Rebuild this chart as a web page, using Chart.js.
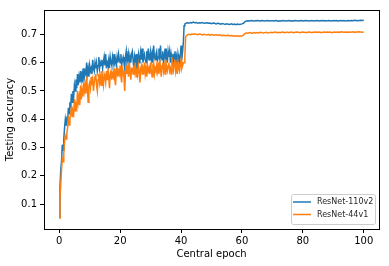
<!DOCTYPE html>
<html>
<head>
<meta charset="utf-8">
<script src="https://cdn.jsdelivr.net/npm/chart.js@4"></script>
<style>
  html, body { margin: 0; padding: 0; background: #fff; }
  #wrap { width: 389px; height: 266px; }
</style>
</head>
<body>
<div id="wrap"><canvas id="chart" width="389" height="266"></canvas></div>
<script>
// Testing accuracy per central epoch.
// Noisy phase (epoch 0 .. 42) sampled every quarter epoch,
// plateau phase (epoch 42.5 .. 100) sampled every half epoch.
const EARLY_START = 0, EARLY_STEP = 0.25;
const LATE_START = 42.5, LATE_STEP = 0.5;
const seriesLabels = ['ResNet-110v2', 'ResNet-44v1'];
const seriesColors = ['#1f77b4', '#ff7f0e'];
const xTicks = [0, 20, 40, 60, 80, 100];
const yTicks = [0.1, 0.2, 0.3, 0.4, 0.5, 0.6, 0.7];

const resnet110Early = [
    0.055,0.16,0.22,0.25,0.31,0.29,0.33,0.37,
    0.40,0.38,0.41,0.39,0.44,0.42,0.46,0.44,
    0.49,0.46,0.50,0.48,0.52,0.50,0.54,0.51,
    0.56,0.52,0.55,0.53,0.57,0.54,0.56,0.53,
    0.58,0.55,0.57,0.56,0.60,0.56,0.58,0.55,
    0.59,0.57,0.58,0.56,0.61,0.58,0.57,0.60,
    0.58,0.60,0.57,0.59,0.62,0.58,0.60,0.59,
    0.61,0.58,0.60,0.62,0.59,0.63,0.58,0.60,
    0.59,0.61,0.58,0.62,0.60,0.59,0.62,0.60,
    0.63,0.60,0.61,0.59,0.62,0.60,0.63,0.61,
    0.60,0.63,0.59,0.61,0.62,0.60,0.58,0.62,
    0.64,0.60,0.61,0.63,0.59,0.62,0.60,0.63,
    0.64,0.61,0.58,0.62,0.60,0.63,0.55,0.61,
    0.63,0.60,0.62,0.64,0.61,0.65,0.60,0.62,
    0.63,0.61,0.60,0.64,0.62,0.65,0.61,0.62,
    0.64,0.61,0.63,0.60,0.66,0.62,0.61,0.63,
    0.64,0.61,0.62,0.65,0.60,0.66,0.62,0.61,
    0.64,0.60,0.62,0.65,0.61,0.63,0.60,0.64,
    0.62,0.64,0.60,0.63,0.61,0.62,0.59,0.63,
    0.64,0.60,0.62,0.59,0.63,0.61,0.60,0.62,
    0.66,0.61,0.64,0.67,0.73,0.737,0.738,0.740,
    0.741
];

const resnet110Late = [
    0.739,0.742,0.740,0.743,0.741,
    0.742,0.739,0.741,0.740,0.742,0.739,0.740,0.741,0.739,0.740,
    0.738,0.740,0.739,0.737,0.739,0.738,0.736,0.738,0.737,0.735,
    0.737,0.736,0.735,0.737,0.735,0.736,0.734,0.736,0.735,0.736,
    0.737,0.739,0.745,0.747,0.748,0.747,0.749,0.748,0.747,0.748,
    0.749,0.748,0.747,0.749,0.748,0.747,0.748,0.749,0.747,0.748,
    0.748,0.747,0.749,0.748,0.746,0.748,0.747,0.749,0.748,0.747,
    0.748,0.749,0.747,0.748,0.747,0.749,0.748,0.747,0.748,0.749,
    0.747,0.748,0.749,0.748,0.747,0.748,0.749,0.747,0.748,0.749,
    0.748,0.747,0.749,0.748,0.749,0.747,0.748,0.749,0.748,0.747,
    0.749,0.748,0.749,0.747,0.748,0.749,0.748,0.749,0.747,0.748,
    0.749,0.748,0.749,0.748,0.750,0.749,0.748,0.749,0.750,0.749,
    0.750
];

const resnet44Early = [
    0.05,0.12,0.17,0.22,0.26,0.25,0.28,0.32,
    0.34,0.33,0.35,0.37,0.41,0.38,0.40,0.42,
    0.44,0.41,0.43,0.42,0.47,0.43,0.45,0.44,
    0.50,0.46,0.48,0.45,0.52,0.47,0.50,0.48,
    0.53,0.50,0.52,0.49,0.55,0.51,0.46,0.52,
    0.53,0.51,0.55,0.52,0.54,0.50,0.53,0.55,
    0.56,0.52,0.50,0.54,0.56,0.53,0.55,0.52,
    0.57,0.54,0.52,0.56,0.55,0.53,0.57,0.54,
    0.58,0.55,0.51,0.56,0.57,0.54,0.56,0.55,
    0.58,0.54,0.52,0.57,0.58,0.55,0.57,0.56,
    0.59,0.55,0.53,0.58,0.57,0.55,0.50,0.56,
    0.59,0.56,0.58,0.55,0.60,0.57,0.54,0.58,
    0.58,0.56,0.59,0.57,0.60,0.55,0.58,0.56,
    0.59,0.57,0.53,0.58,0.59,0.56,0.58,0.57,
    0.60,0.56,0.58,0.55,0.59,0.57,0.58,0.56,
    0.60,0.57,0.55,0.59,0.60,0.56,0.58,0.57,
    0.59,0.57,0.60,0.56,0.61,0.58,0.55,0.59,
    0.60,0.57,0.59,0.56,0.61,0.58,0.57,0.59,
    0.60,0.57,0.58,0.56,0.62,0.58,0.57,0.60,
    0.61,0.57,0.59,0.56,0.60,0.58,0.57,0.59,
    0.61,0.58,0.59,0.60,0.60,0.62,0.69,0.695,
    0.697
];

const resnet44Late = [
    0.700,0.699,0.701,0.700,0.702,
    0.700,0.699,0.701,0.700,0.698,0.700,0.699,0.698,0.700,0.697,
    0.699,0.698,0.697,0.699,0.696,0.698,0.697,0.695,0.697,0.696,
    0.695,0.697,0.694,0.696,0.694,0.695,0.693,0.695,0.693,0.694,
    0.694,0.697,0.703,0.705,0.704,0.706,0.705,0.704,0.706,0.705,
    0.706,0.705,0.707,0.706,0.705,0.706,0.707,0.705,0.706,0.707,
    0.706,0.707,0.708,0.706,0.707,0.706,0.707,0.708,0.706,0.707,
    0.707,0.706,0.708,0.707,0.706,0.707,0.708,0.707,0.706,0.707,
    0.708,0.707,0.706,0.707,0.708,0.707,0.706,0.708,0.707,0.708,
    0.707,0.708,0.706,0.707,0.708,0.707,0.708,0.707,0.708,0.706,
    0.707,0.708,0.707,0.708,0.707,0.709,0.708,0.707,0.708,0.707,
    0.708,0.707,0.708,0.709,0.707,0.708,0.708,0.709,0.708,0.707,
    0.708
];

const FONT = "'DejaVu Sans', sans-serif";

function toPoints(values, start, step) {
    return values.map((v, i) => ({ x: start + i * step, y: v }));
}

function series(early, late) {
    return toPoints(early, EARLY_START, EARLY_STEP).concat(toPoints(late, LATE_START, LATE_STEP));
}

// Full black frame round the plot area, like matplotlib spines
const framePlugin = {
    id: 'frame',
    afterDraw(chart) {
        const { ctx, chartArea: a } = chart;
        ctx.save();
        ctx.strokeStyle = '#000';
        ctx.lineWidth = 1;
        ctx.strokeRect(Math.round(a.left) + 0.5, Math.round(a.top) + 0.5,
                       Math.round(a.right - a.left), Math.round(a.bottom - a.top));
        ctx.restore();
    }
};

// Legend box in the lower right corner
const legendPlugin = {
    id: 'boxLegend',
    afterDraw(chart) {
        const { ctx, chartArea: a } = chart;
        const w = 84, h = 30;
        const x = a.right - 4 - w, y = a.bottom - 5 - h;
        ctx.save();
        ctx.fillStyle = 'rgba(255,255,255,0.8)';
        ctx.strokeStyle = '#cccccc';
        ctx.lineWidth = 1;
        ctx.beginPath();
        ctx.roundRect(x + 0.5, y + 0.5, w, h, 2);
        ctx.fill();
        ctx.stroke();
        ctx.font = `8px ${FONT}`;
        ctx.textBaseline = 'middle';
        chart.data.datasets.forEach((ds, i) => {
            const ly = y + 8 + i * 12.5;
            ctx.strokeStyle = ds.borderColor;
            ctx.lineWidth = 1.5;
            ctx.beginPath();
            ctx.moveTo(x + 2, ly);
            ctx.lineTo(x + 20, ly);
            ctx.stroke();
            ctx.fillStyle = '#262626';
            ctx.fillText(ds.label, x + 26, ly);
        });
        ctx.restore();
    }
};

const tickStyle = { color: '#000', font: { family: FONT, size: 10 } };
const gridStyle = { display: true, drawOnChartArea: false, drawTicks: true, tickLength: 4, color: '#000' };

new Chart(document.getElementById('chart'), {
    type: 'line',
    data: {
        datasets: [
            { label: seriesLabels[0], data: series(resnet110Early, resnet110Late), borderColor: seriesColors[0], order: 1 },
            { label: seriesLabels[1], data: series(resnet44Early, resnet44Late), borderColor: seriesColors[1], order: 0 }
        ]
    },
    options: {
        responsive: false,
        animation: false,
        events: [],
        parsing: false,
        elements: {
            line: { borderWidth: 1.5, tension: 0, fill: false },
            point: { radius: 0 }
        },
        layout: { padding: { top: 10, right: 10, left: 0, bottom: 0 } },
        plugins: {
            legend: { display: false },
            tooltip: { enabled: false }
        },
        scales: {
            x: {
                type: 'linear',
                min: -5,
                max: 105,
                afterBuildTicks: (s) => { s.ticks = xTicks.map(v => ({ value: v })); },
                afterFit: (s) => { s.height = 37; },
                ticks: { ...tickStyle, padding: 2, maxRotation: 0 },
                grid: gridStyle,
                border: { display: false },
                title: { display: true, text: 'Central epoch', color: '#000', font: { family: FONT, size: 10 }, padding: { top: 0, bottom: 6 } }
            },
            y: {
                type: 'linear',
                min: 0.012,
                max: 0.786,
                afterBuildTicks: (s) => { s.ticks = yTicks.map(v => ({ value: v })); },
                afterFit: (s) => { s.width = 44; },
                ticks: { ...tickStyle, padding: 3, callback: (v) => v.toFixed(1) },
                grid: gridStyle,
                border: { display: false },
                title: { display: true, text: 'Testing accuracy', color: '#000', font: { family: FONT, size: 10 }, padding: { top: 4, bottom: 0 } }
            }
        }
    },
    plugins: [framePlugin, legendPlugin]
});
</script>
</body>
</html>
